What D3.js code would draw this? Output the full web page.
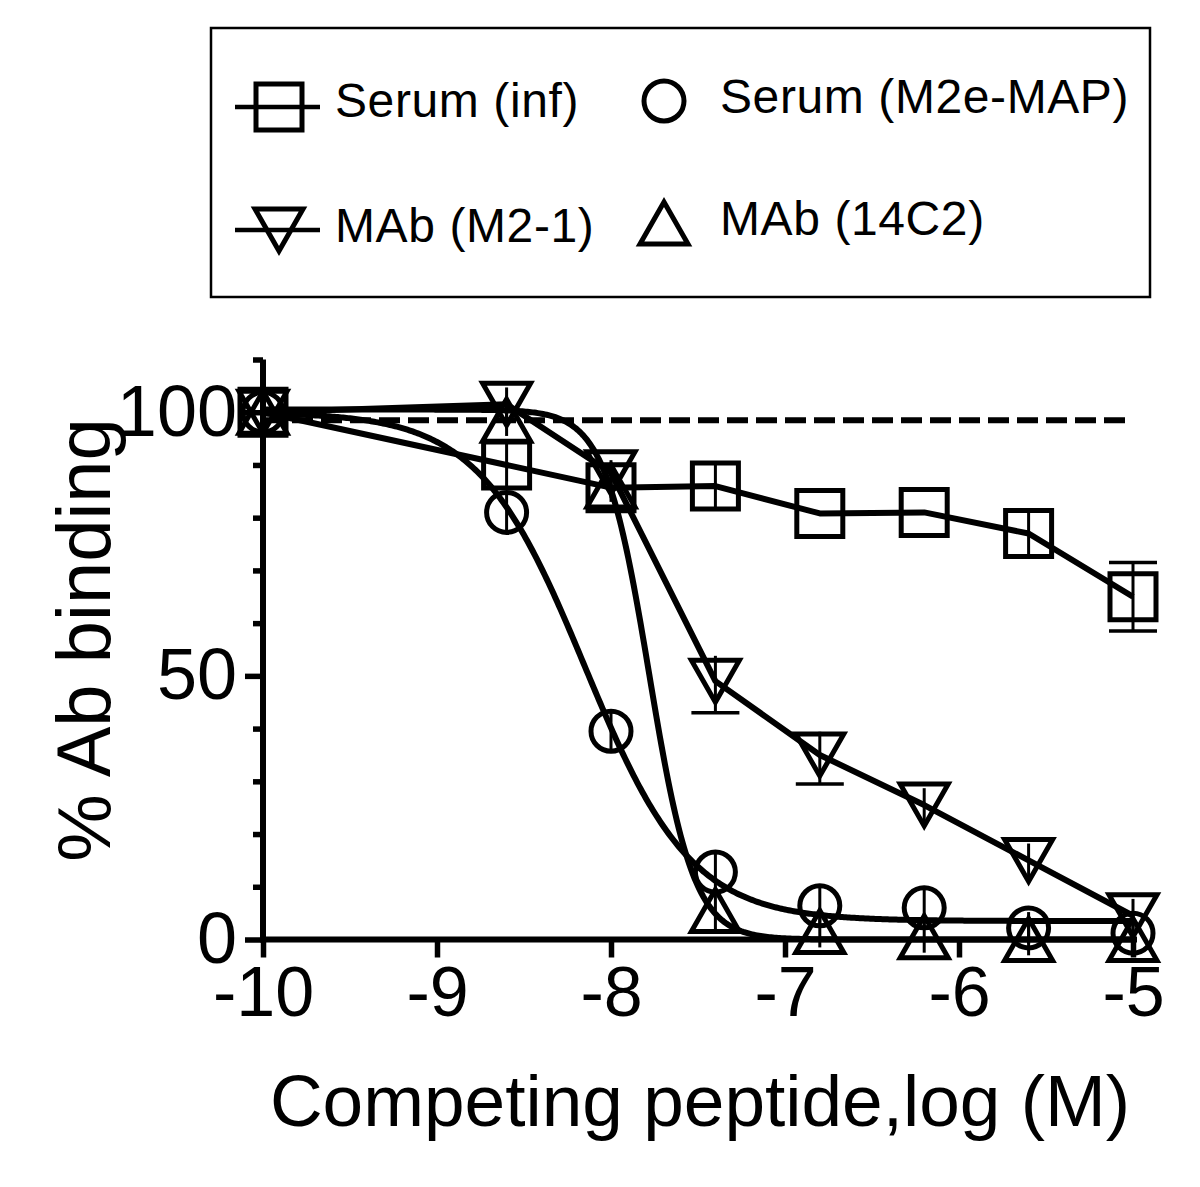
<!DOCTYPE html>
<html>
<head>
<meta charset="utf-8">
<script src="https://cdn.jsdelivr.net/npm/d3@7"></script>
<style>
  body { margin: 0; background: #fff; }
  svg { display: block; }
  text { font-family: "Liberation Sans", Arial, Helvetica, sans-serif; fill: #000; }
</style>
</head>
<body>
<svg id="chart" width="1200" height="1187"></svg>
<script>
// data
const logConc = [-10, -8.6, -8, -7.4, -6.8, -6.2, -5.6, -5]

const serumInf    = [100, 90, 85.7, 86, 80.8, 81, 77, 65]
const serumInfSem = [0, 4.5, 2, 4.5, 0, 0, 4.5, 6.5]

const serumMap    = [100, 81, 39.5, 12.8, 6.4, 6, 2.2, 1.2]
const serumMapSem = [0, 3.5, 3.5, 4, 4, 4, 3, 4]

const mabM21    = [100, 101.5, 88.5, 49, 35, 25.5, 15, 4.5]
const mabM21Sem = [0, 4, 3, 6, 5.5, 4, 4, 4]

const mab14C2    = [100, 98.5, 86, 5.5, 1.5, 0.5, 0, 0]
const mab14C2Sem = [0, 3, 3, 4, 3, 3, 3, 0]

// sigmoid fit parameters (top, bottom, logEC50, hill slope)
const fitMap  = [100, 3.5, -8.15, 1.42]
const fit14C2 = [100.5, 0, -7.78, 3.4]

const seriesNames = ["Serum (inf)", "Serum (M2e-MAP)", "MAb (M2-1)", "MAb (14C2)"]
const xTicks = [-10, -9, -8, -7, -6, -5]
const yMajor = [0, 50, 100]
const yMinor = [10, 20, 30, 40, 60, 70, 80, 90, 110]
const refLevel = 98.5

const svg = d3.select("#chart")

const x = d3.scaleLinear().domain([-10, -5]).range([263, 1133])
const y = d3.scaleLinear().domain([0, 110]).range([939.5, 359.5])

// axes
const xAxis = svg.append("g")
    .attr("transform", `translate(0,${y(0)})`)
    .call(d3.axisBottom(x).tickValues(xTicks).tickSize(18).tickSizeOuter(0).tickPadding(9).tickFormat(d => String(d)))
xAxis.select(".domain").attr("stroke-width", 6).attr("d", `M${x(-10)},0H${x(-5) + 4}`)
xAxis.selectAll(".tick line").attr("stroke-width", 5.5)
xAxis.selectAll(".tick text").attr("font-size", 70).style("font-family", "Liberation Sans, Arial")

const yAxis = svg.append("g")
    .attr("transform", `translate(${x(-10)},0)`)
    .call(d3.axisLeft(y).tickValues(yMajor).tickSize(18).tickSizeOuter(0).tickPadding(8))
yAxis.select(".domain").attr("stroke-width", 6).attr("d", `M0,${y(110)}V${y(0) + 3}`)
yAxis.selectAll(".tick line").attr("stroke-width", 5.5)
yAxis.selectAll(".tick text").attr("font-size", 72).style("font-family", "Liberation Sans, Arial")

const yMinorAxis = svg.append("g")
    .attr("transform", `translate(${x(-10)},0)`)
    .call(d3.axisLeft(y).tickValues(yMinor).tickSize(10).tickFormat(""))
yMinorAxis.select(".domain").remove()
yMinorAxis.selectAll(".tick line").attr("stroke-width", 5.5)

// axis titles
svg.append("text")
    .attr("x", 700).attr("y", 1126)
    .attr("text-anchor", "middle")
    .attr("font-size", 73)
    .text("Competing peptide,log (M)")

svg.append("text")
    .attr("transform", "translate(110,640) rotate(-90)")
    .attr("text-anchor", "middle")
    .attr("font-size", 76)
    .text("% Ab binding")

// reference dashed line
svg.append("line")
    .attr("x1", x(-10)).attr("x2", x(-5))
    .attr("y1", y(refLevel)).attr("y2", y(refLevel))
    .attr("stroke", "#000").attr("stroke-width", 6)
    .attr("stroke-dasharray", "21 8")

// fitted curves
function sigmoid(p) {
    return v => p[1] + (p[0] - p[1]) / (1 + Math.pow(10, (v - p[2]) * p[3]))
}
const curveX = d3.range(-10, -4.999, 0.01)
const curveLine = d3.line().x(d => x(d[0])).y(d => y(d[1]))

;[fitMap, fit14C2].forEach(p => {
    const f = sigmoid(p)
    svg.append("path")
        .attr("d", curveLine(curveX.map(v => [v, f(v)])))
        .attr("fill", "none").attr("stroke", "#000").attr("stroke-width", 6)
})

// connecting lines for the two non-fitted series
;[serumInf, mabM21].forEach(vals => {
    svg.append("path")
        .attr("d", curveLine(logConc.map((c, i) => [c, vals[i]])))
        .attr("fill", "none").attr("stroke", "#000").attr("stroke-width", 6)
        .attr("stroke-linejoin", "round")
})

// marker shapes
function markerPath(kind) {
    if (kind == "square") return "M-23,-23H23V23H-23Z"
    if (kind == "circle") return "M20,0A20,20 0 1,1 -20,0A20,20 0 1,1 20,0Z"
    if (kind == "down") return "M-24,-21H24L0,21Z"
    return "M0,-21L24,21H-24Z"
}

const series = [
    { name: seriesNames[0], vals: serumInf, sem: serumInfSem, kind: "square", bars: "both" },
    { name: seriesNames[1], vals: serumMap, sem: serumMapSem, kind: "circle", bars: "both" },
    { name: seriesNames[2], vals: mabM21, sem: mabM21Sem, kind: "down", bars: "below" },
    { name: seriesNames[3], vals: mab14C2, sem: mab14C2Sem, kind: "up", bars: "both" }
]

// error bars
series.forEach(s => {
    logConc.forEach((c, i) => {
        if (!s.sem[i]) return
        const cx = x(c)
        const yc = y(s.vals[i])
        const yLo = y(s.vals[i] - s.sem[i])
        const yHi = s.bars == "below" ? yc - (yLo - yc) * 0.8 : y(s.vals[i] + s.sem[i])
        svg.append("line")
            .attr("x1", cx).attr("x2", cx).attr("y1", yLo).attr("y2", yHi)
            .attr("stroke", "#000").attr("stroke-width", 3)
        const caps = s.bars == "below" ? [yLo] : [yLo, yHi]
        if (yLo - yc > 25) {
            caps.forEach(yy => {
                svg.append("line")
                    .attr("x1", cx - 24).attr("x2", cx + 24).attr("y1", yy).attr("y2", yy)
                    .attr("stroke", "#000").attr("stroke-width", 3.5)
            })
        }
    })
})

// markers
series.forEach(s => {
    svg.append("g").selectAll("path")
        .data(logConc.map((c, i) => [c, s.vals[i]]))
        .enter().append("path")
        .attr("transform", d => `translate(${x(d[0])},${y(d[1])})`)
        .attr("d", markerPath(s.kind))
        .attr("fill", "none").attr("stroke", "#000").attr("stroke-width", 5)
        .attr("stroke-linejoin", "miter")
})

// legend
svg.append("rect")
    .attr("x", 211).attr("y", 28).attr("width", 939).attr("height", 269)
    .attr("fill", "none").attr("stroke", "#000").attr("stroke-width", 2.5)

const legendPos = [
    { sx: 279, sy: 107, tx: 335, ty: 117, line: true },
    { sx: 664, sy: 101, tx: 720, ty: 113, line: false },
    { sx: 279, sy: 230, tx: 335, ty: 242, line: true },
    { sx: 664, sy: 223, tx: 720, ty: 235, line: false }
]

series.forEach((s, i) => {
    const p = legendPos[i]
    const g = svg.append("g")
    if (p.line) {
        g.append("line")
            .attr("x1", p.sx - 44).attr("x2", p.sx + 41)
            .attr("y1", p.sy).attr("y2", p.sy)
            .attr("stroke", "#000").attr("stroke-width", 4.5)
    }
    g.append("path")
        .attr("transform", `translate(${p.sx},${p.sy})`)
        .attr("d", markerPath(s.kind))
        .attr("fill", "none").attr("stroke", "#000").attr("stroke-width", 5)
    g.append("text")
        .attr("x", p.tx).attr("y", p.ty)
        .attr("font-size", 48)
        .attr("letter-spacing", 0.6)
        .text(s.name)
})
</script>
</body>
</html>
